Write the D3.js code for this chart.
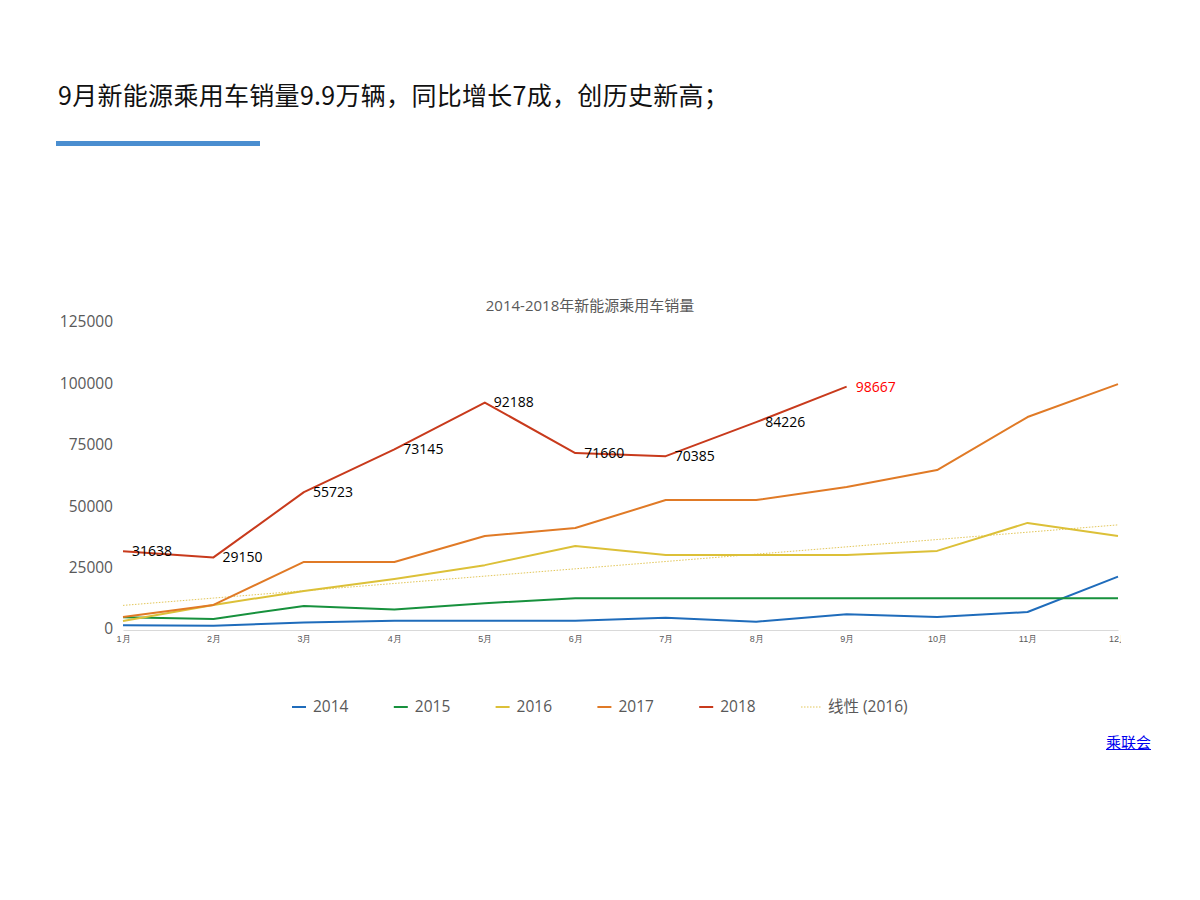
<!DOCTYPE html>
<html>
<head>
<meta charset="utf-8">
<script src="https://cdn.jsdelivr.net/npm/d3@7"></script>
<style>
  body { margin: 0; background: #fff; font-family: "Open Sans", "Noto Sans CJK SC", sans-serif; }
  #page { position: relative; width: 1200px; height: 900px; }
  a { color: #0000ee; }
</style>
</head>
<body>
<div id="page"><svg id="chart" width="1200" height="900"></svg></div>
<script>
// data
var months = ["1月","2月","3月","4月","5月","6月","7月","8月","9月","10月","11月","12月"];
var years = ["2014","2015","2016","2017","2018"];
var sales2014 = [1500, 1350, 2600, 3400, 3400, 3400, 4600, 3000, 6000, 4900, 6900, 21300];
var sales2015 = [4750, 4100, 9400, 7900, 10500, 12500, 12500, 12500, 12500, 12500, 12500, 12500];
var sales2016 = [3300, 9800, 15500, 20400, 26000, 33800, 30100, 30100, 30100, 31800, 43200, 37900];
var sales2017 = [4900, 9800, 27300, 27300, 37900, 41100, 52500, 52500, 57800, 64700, 86300, 99700];
var sales2018 = [31638, 29150, 55723, 73145, 92188, 71660, 70385, 84226, 98667];
var yTicks = [0, 25000, 50000, 75000, 100000, 125000];
var colors = ["#1f6cbb", "#17913d", "#dcc038", "#e07a26", "#c83a1c"];

var seriesList = [sales2014, sales2015, sales2016, sales2017, sales2018];

var svg = d3.select("#chart");

// header
svg.append("text")
  .attr("x", 58).attr("y", 105)
  .attr("font-size", 25)
  .attr("font-family", "'Noto Sans CJK SC', sans-serif")
  .attr("letter-spacing", "0.3")
  .attr("fill", "#111")
  .text("9月新能源乘用车销量9.9万辆，同比增长7成，创历史新高；");
svg.append("rect")
  .attr("x", 56).attr("y", 141).attr("width", 204).attr("height", 5)
  .attr("fill", "#4a8ed0");

// scales
var x = d3.scalePoint().domain(months).range([123, 1118]);
var y = d3.scaleLinear().domain([0, 125000]).range([629, 322]);

// chart title
svg.append("text")
  .attr("x", 590).attr("y", 311)
  .attr("text-anchor", "middle")
  .attr("font-size", 15)
  .attr("fill", "#595959")
  .text("2014-2018年新能源乘用车销量");

// y axis (labels only)
var yAxis = svg.append("g")
  .attr("transform", "translate(123,0)")
  .call(d3.axisLeft(y).tickValues(yTicks).tickSize(0).tickPadding(10).tickFormat(d3.format("d")));
yAxis.select(".domain").remove();
yAxis.selectAll("text")
  .attr("font-size", 15.5)
  .attr("fill", "#595959")
  .attr("font-family", "'Open Sans', sans-serif");

// x axis
svg.append("clipPath").attr("id", "xclip")
  .append("rect").attr("x", 100).attr("y", -10).attr("width", 1021).attr("height", 40);
var xAxis = svg.append("g")
  .attr("transform", "translate(0,630)")
  .attr("clip-path", "url(#xclip)")
  .call(d3.axisBottom(x).tickSize(0).tickPadding(6));
xAxis.select(".domain").attr("stroke", "#d9d9d9");
xAxis.selectAll("text")
  .attr("font-size", 9)
  .attr("fill", "#595959");

// trend line for 2016 (least squares)
var mx = d3.mean(sales2016, function(d, i) { return i; });
var my = d3.mean(sales2016);
var slope = d3.sum(sales2016, function(d, i) { return (i - mx) * (d - my); }) /
            d3.sum(sales2016, function(d, i) { return (i - mx) * (i - mx); });
var trend = months.map(function(m, i) { return my + slope * (i - mx); });

var line = d3.line()
  .x(function(d, i) { return x(months[i]); })
  .y(function(d) { return y(d); });

svg.append("path")
  .datum(trend)
  .attr("d", line)
  .attr("fill", "none")
  .attr("stroke", "#e3c75a")
  .attr("stroke-width", 1)
  .attr("stroke-dasharray", "1.5,1.5");

seriesList.forEach(function(s, k) {
  svg.append("path")
    .datum(s)
    .attr("d", line)
    .attr("fill", "none")
    .attr("stroke", colors[k])
    .attr("stroke-width", 2)
    .attr("stroke-linejoin", "round");
});

// 2018 data labels
svg.append("g").selectAll("text")
  .data(sales2018)
  .enter()
  .append("text")
  .attr("x", function(d, i) { return x(months[i]) + 9; })
  .attr("y", function(d) { return y(d); })
  .attr("dy", "0.35em")
  .attr("font-size", 14)
  .attr("fill", function(d, i) { return i == sales2018.length - 1 ? "#ff0000" : "#000"; })
  .text(function(d) { return d; });

// legend
var legendItems = years.concat(["线性 (2016)"]);
var lg = svg.append("g").selectAll("g")
  .data(legendItems)
  .enter()
  .append("g")
  .attr("transform", function(d, i) { return "translate(" + (292 + i * 101.8) + ",707)"; });
lg.append("line")
  .attr("x1", 0)
  .attr("x2", function(d, i) { return i < 5 ? 14 : 21; })
  .attr("stroke", function(d, i) { return i < 5 ? colors[i] : "#e3c75a"; })
  .attr("stroke-width", function(d, i) { return i < 5 ? 2 : 1; })
  .attr("stroke-dasharray", function(d, i) { return i < 5 ? null : "1.5,1.5"; });
lg.append("text")
  .attr("x", function(d, i) { return i < 5 ? 21 : 27; })
  .attr("dy", "0.35em")
  .attr("font-size", 15.5)
  .attr("fill", "#595959")
  .text(function(d) { return d; });

// source link
d3.select("#page").append("a")
  .attr("href", "#")
  .style("position", "absolute")
  .style("left", "1106px")
  .style("top", "731px")
  .style("font-size", "15px")
  .style("font-family", "'Noto Sans CJK SC', sans-serif")
  .text("乘联会");
</script>
</body>
</html>
